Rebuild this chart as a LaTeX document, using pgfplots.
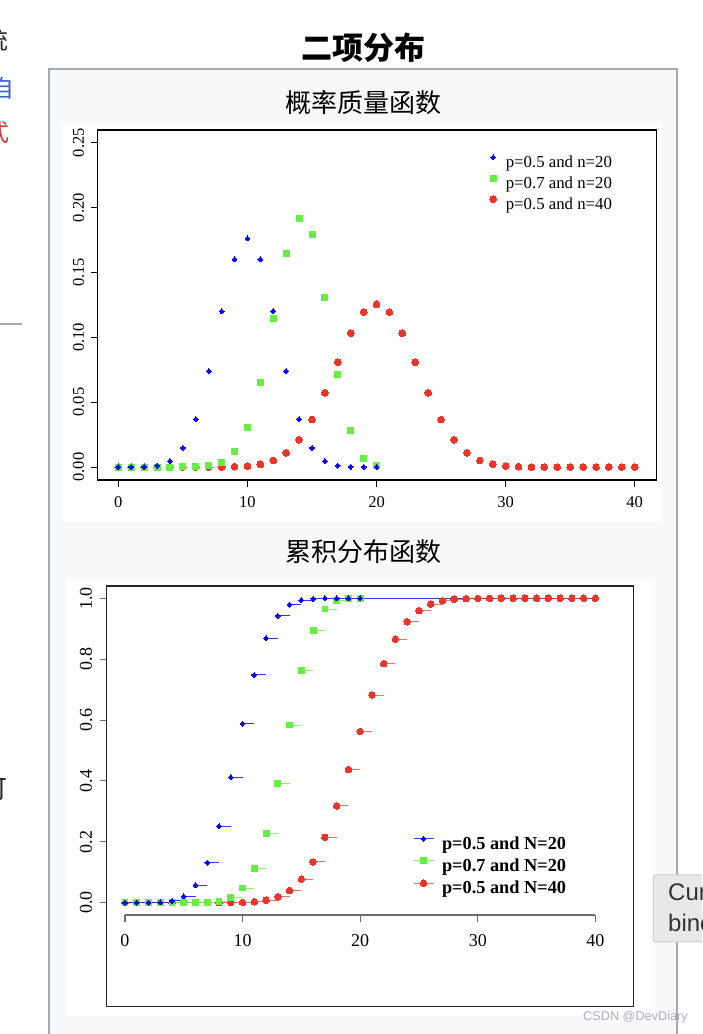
\documentclass[border=0pt]{standalone}
\usepackage{pgfplots}
\pgfplotsset{compat=1.18}
\usepackage{fontspec}
\setmainfont{Liberation Serif}
\newfontfamily\cjk{Noto Sans CJK SC}
\newfontfamily\sansf{Liberation Sans}
\definecolor{pblue}{RGB}{0,0,255}
\definecolor{pgreen}{RGB}{102,238,68}
\definecolor{pred}{RGB}{236,52,40}
\definecolor{panelbg}{RGB}{246,248,250}
\definecolor{panelborder}{RGB}{163,170,178}
\definecolor{axisgray}{RGB}{110,110,110}

\pgfplotstableread{
k p
0 0.00000095
1 0.0000191
2 0.000181
3 0.001087
4 0.004621
5 0.014786
6 0.036964
7 0.073929
8 0.120134
9 0.160179
10 0.176197
11 0.160179
12 0.120134
13 0.073929
14 0.036964
15 0.014786
16 0.004621
17 0.001087
18 0.000181
19 0.0000191
20 0.00000095
}\pmfA
\pgfplotstableread{
k p
0 0
1 0
2 0
3 0.0000005
4 0.000005
5 0.0000374
6 0.000218
7 0.001018
8 0.003859
9 0.012007
10 0.030817
11 0.065370
12 0.114397
13 0.164262
14 0.191639
15 0.178863
16 0.130421
17 0.071604
18 0.027846
19 0.006839
20 0.000798
}\pmfB
\pgfplotstableread{
k p
0 0
1 0
2 0
3 0
4 0
5 0.0000006
6 0.0000035
7 0.000017
8 0.0000699
9 0.000249
10 0.000771
11 0.002103
12 0.005081
13 0.010944
14 0.021107
15 0.036585
16 0.057164
17 0.080702
18 0.103119
19 0.119401
20 0.125371
21 0.119401
22 0.103119
23 0.080702
24 0.057164
25 0.036585
26 0.021107
27 0.010944
28 0.005081
29 0.002103
30 0.000771
31 0.000249
32 0.0000699
33 0.000017
34 0.0000035
35 0.0000006
36 0
37 0
38 0
39 0
40 0
}\pmfC
\pgfplotstableread{
k F
0 0.000001
1 0.000020
2 0.000201
3 0.001288
4 0.005909
5 0.020695
6 0.057659
7 0.131588
8 0.251722
9 0.411901
10 0.588099
11 0.748278
12 0.868412
13 0.942341
14 0.979305
15 0.994091
16 0.998712
17 0.999799
18 0.999980
19 0.999999
20 1.0
}\cdfA
\pgfplotstableread{
k F
0 0
1 0
2 0
3 0.0000005
4 0.0000056
5 0.0000429
6 0.000261
7 0.001279
8 0.005138
9 0.017145
10 0.047962
11 0.113331
12 0.227728
13 0.391990
14 0.583629
15 0.762492
16 0.892913
17 0.964517
18 0.992363
19 0.999202
20 1.0
}\cdfB
\pgfplotstableread{
k F
0 0
1 0
2 0
3 0
4 0
5 0.0000007
6 0.0000043
7 0.0000213
8 0.0000912
9 0.000340
10 0.001111
11 0.003214
12 0.008295
13 0.019239
14 0.040345
15 0.076930
16 0.134094
17 0.214796
18 0.317914
19 0.437315
20 0.562686
21 0.682085
22 0.785204
23 0.865906
24 0.923070
25 0.959655
26 0.980761
27 0.991705
28 0.996786
29 0.998889
30 0.999660
31 0.999909
32 0.999979
33 0.999996
34 1.0
35 1.0
36 1.0
37 1.0
38 1.0
39 1.0
40 1.0
}\cdfC

\begin{document}
\begin{tikzpicture}[x=1pt,y=1pt]
\path[use as bounding box] (0,0) rectangle (702,1034);
\begin{scope}
\clip (0,0) rectangle (702,1034);
\fill[white] (0,0) rectangle (702,1034);
\fill[panelbg] (49,-10) rectangle (677,965);
\draw[panelborder, line width=2pt] (49,-10) -- (49,965) -- (677,965) -- (677,-10);
\fill[white] (63,512) rectangle (662,911);
\fill[white] (66,18) rectangle (655,455);
% titles
\node[font=\cjk\bfseries\fontsize{31}{31}\selectfont, inner sep=0pt] at (363,986) {二项分布};
\node[font=\cjk\fontsize{26}{26}\selectfont, inner sep=0pt] at (363,931.5) {概率质量函数};
\node[font=\cjk\fontsize{26}{26}\selectfont, inner sep=0pt] at (363,482) {累积分布函数};
% cropped page text at left
\node[font=\cjk\fontsize{24}{24}\selectfont, text=black!85, inner sep=0pt, anchor=east] at (9,994) {统};
\node[font=\cjk\fontsize{24}{24}\selectfont, text={rgb,255:red,60;green,100;blue,205}, inner sep=0pt, anchor=east] at (15,946) {自};
\node[font=\cjk\fontsize{24}{24}\selectfont, text={rgb,255:red,205;green,60;blue,55}, inner sep=0pt, anchor=east] at (10,902) {式};
\node[font=\cjk\fontsize{26}{26}\selectfont, text=black!85, inner sep=0pt, anchor=east] at (8,244) {可};
\draw[color={rgb,255:red,170;green,170;blue,170}, line width=1.5pt] (0,710) -- (22,710);
% watermark
\node[font=\sansf\fontsize{12.7}{12.7}\selectfont, text={rgb,255:red,175;green,178;blue,182}, inner sep=0pt] at (635.5,17) {CSDN @DevDiary};
\end{scope}

% ---------- top: PMF ----------
\begin{axis}[
  at={(97.7pt,554pt)}, anchor=south west, scale only axis,
  width=558.6pt, height=350pt,
  xmin=-1.6, xmax=41.67, ymin=-0.01, ymax=0.2598,
  axis line style={line width=1.2pt, black},
  tick align=outside, tick pos=left, major tick length=7pt,
  tick style={line width=1pt, black},
  xtick={0,10,20,30,40}, ytick={0,0.05,0.1,0.15,0.2,0.25},
  scaled y ticks=false,
  /pgf/number format/assume math mode=true,
  tick label style={font=\fontsize{16.5}{16.5}\selectfont},
  yticklabel style={/pgf/number format/fixed, /pgf/number format/fixed zerofill, /pgf/number format/precision=2,
    rotate=90, anchor=south, inner sep=0pt},
  xticklabel style={anchor=north, inner sep=0pt},
  xticklabel shift=9.8pt, yticklabel shift=6.3pt,
  legend style={at={(0.7019,0.9291)}, anchor=north west, draw=none, fill=none,
    inner sep=0pt, outer sep=0pt, row sep=4.3pt, column sep=9.2pt,
    font=\fontsize{16.8}{16.8}\selectfont,
    nodes={inner sep=0pt, text height=11.5pt, text depth=3.5pt}},
  legend cell align=left,
  reverse legend,
]
\addplot[only marks, mark=*, mark size=3.4pt, color=pred, mark options={fill=pred, draw=pred, line width=0pt},
  legend image code/.code={\draw plot coordinates {(0pt,6pt)};}] table[x=k,y=p] {\pmfC};
\addlegendentry{p=0.5 and n=40}
\addplot[only marks, mark=square*, mark size=3pt, color=pgreen, mark options={fill=pgreen, draw=pgreen, line width=0pt},
  legend image code/.code={\draw plot coordinates {(0pt,6pt)};}] table[x=k,y=p] {\pmfB};
\addlegendentry{p=0.7 and n=20}
\addplot[only marks, mark=diamond*, mark size=2.5pt, color=pblue, mark options={fill=pblue, draw=pblue, line width=0pt, xscale=1.3},
  legend image code/.code={\draw plot coordinates {(0pt,6pt)};}] table[x=k,y=p] {\pmfA};
\addlegendentry{p=0.5 and n=20}
\end{axis}

% ---------- bottom: CDF ----------
\begin{axis}[
  at={(106.7pt,27.3pt)}, anchor=south west, scale only axis,
  width=527pt, height=420.7pt,
  xmin=-1.556, xmax=43.26, ymin=-0.3417, ymax=1.0404,
  axis line style={line width=1.2pt, black!85},
  tick align=outside, tick pos=left, major tick length=7pt,
  tick style={line width=1pt, axisgray},
  xtick=\empty, ytick={0,0.2,0.4,0.6,0.8,1},
  scaled y ticks=false,
  /pgf/number format/assume math mode=true,
  tick label style={font=\fontsize{18}{18}\selectfont},
  yticklabel style={/pgf/number format/fixed, /pgf/number format/fixed zerofill, /pgf/number format/precision=1,
    rotate=90, anchor=south, inner sep=0pt},
  yticklabel shift=7.3pt,
  legend style={at={(0.5812,0.4050)}, anchor=north west, draw=none, fill=none,
    inner sep=0pt, outer sep=0pt, row sep=4.8pt, column sep=8pt,
    font=\bfseries\fontsize{18.3}{18.3}\selectfont,
    nodes={inner sep=0pt, text height=12.5pt, text depth=4pt}},
  legend cell align=left,
  reverse legend,
]
\draw[line width=1.2pt, axisgray] (axis cs:0,-0.0404) -- (axis cs:40,-0.0404);
\pgfplotsinvokeforeach{0,10,20,30,40}{
  \draw[line width=1.2pt, axisgray] (axis cs:#1,-0.0404) -- (axis cs:#1,-0.0624);
  \node[font=\fontsize{18}{18}\selectfont, inner sep=0pt] at (axis cs:#1,-0.1248) {#1};
}
\addplot[forget plot, color=pblue, line width=1pt, draw opacity=0.8, no marks] coordinates {(20,1) (40,1)};
\addplot[color=pred, line width=1pt, draw opacity=0.7, jump mark left, mark=*, mark size=3.3pt,
  mark options={fill=pred, draw=pred, line width=0pt, draw opacity=1, fill opacity=1},
  legend image code/.code={\draw[sharp plot, mark repeat=2, mark phase=2] plot coordinates {(0pt,6pt) (10pt,6pt) (20pt,6pt)};}]
  table[x=k,y=F] {\cdfC};
\addlegendentry{p=0.5 and N=40}
\addplot[color=pgreen, line width=1pt, draw opacity=0.8, jump mark left, mark=square*, mark size=2.9pt,
  mark options={fill=pgreen, draw=pgreen, line width=0pt, draw opacity=1, fill opacity=1},
  legend image code/.code={\draw[sharp plot, mark repeat=2, mark phase=2] plot coordinates {(0pt,6pt) (10pt,6pt) (20pt,6pt)};}]
  table[x=k,y=F] {\cdfB};
\addlegendentry{p=0.7 and N=20}
\addplot[color=pblue, line width=1pt, draw opacity=0.8, jump mark left, mark=diamond*, mark size=2.5pt,
  mark options={fill=pblue, draw=pblue, line width=0pt, draw opacity=1, fill opacity=1, xscale=1.3},
  legend image code/.code={\draw[sharp plot, mark repeat=2, mark phase=2] plot coordinates {(0pt,6pt) (10pt,6pt) (20pt,6pt)};}]
  table[x=k,y=F] {\cdfA};
\addlegendentry{p=0.5 and N=20}
\end{axis}

% tooltip at right edge
\begin{scope}
\clip (0,0) rectangle (702,1034);
\filldraw[fill={rgb,255:red,232;green,232;blue,232}, draw={rgb,255:red,205;green,205;blue,205}, line width=1pt, rounded corners=3pt] (653,92) rectangle (720,159);
\node[font=\sansf\fontsize{24}{24}\selectfont, text={rgb,255:red,50;green,50;blue,50}, inner sep=0pt, anchor=base west] at (668,133) {Cumulative};
\node[font=\sansf\fontsize{24}{24}\selectfont, text={rgb,255:red,50;green,50;blue,50}, inner sep=0pt, anchor=base west] at (668,102) {binomial};
\end{scope}
\end{tikzpicture}
\end{document}
